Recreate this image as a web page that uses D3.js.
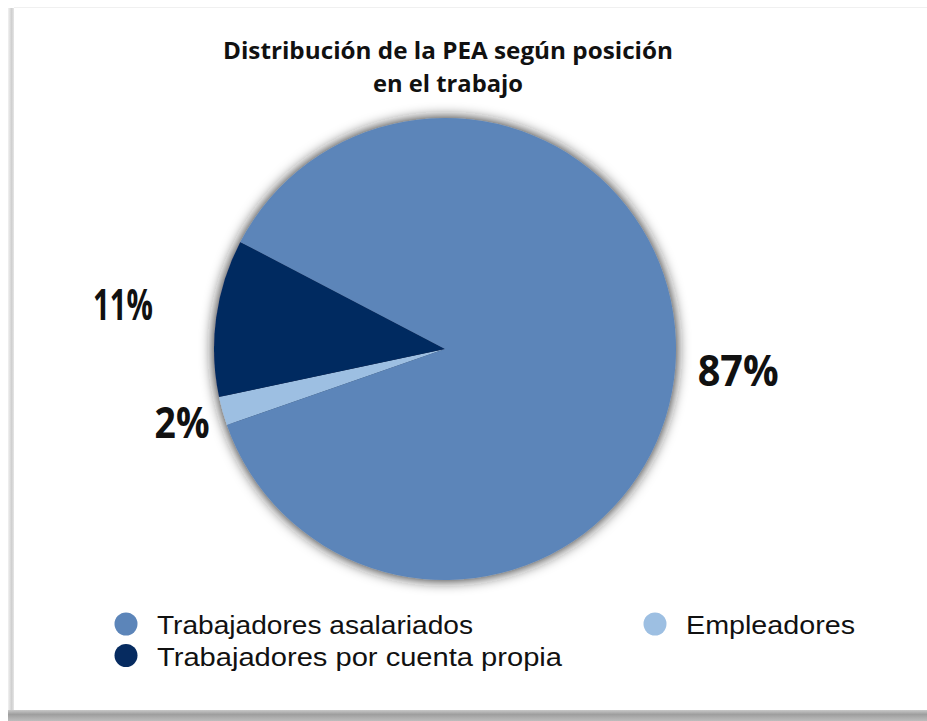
<!DOCTYPE html>
<html>
<head>
<meta charset="utf-8">
<script src="https://cdn.jsdelivr.net/npm/d3@7"></script>
<style>
  html, body { margin: 0; padding: 0; background: #ffffff; }
  svg { display: block; }
</style>
</head>
<body>
<svg id="chart" width="927" height="721"></svg>
<script>
// ---- data ----
const categories = ["Empleadores", "Trabajadores por cuenta propia", "Trabajadores asalariados"];
const values = [2, 11, 87];
const valueLabels = ["2%", "11%", "87%"];
const titleLines = ["Distribución de la PEA según posición", "en el trabajo"];
const legendOrder = ["Trabajadores asalariados", "Empleadores", "Trabajadores por cuenta propia"];

// ---- styles / layout ----
const colors = {
  "Empleadores": "#9dbfe2",
  "Trabajadores por cuenta propia": "#062b60",
  "Trabajadores asalariados": "#5c85b9"
};
const W = 927, H = 721;
const cx = 445, cy = 349, R = 231;
const startDeg = 250.8;
const labelRadius = { "Empleadores": 273, "Trabajadores por cuenta propia": 325, "Trabajadores asalariados": 294 };
const labelWidth = { "Empleadores": 55, "Trabajadores por cuenta propia": 60, "Trabajadores asalariados": 81 };
const legendPos = {
  "Trabajadores asalariados": { x: 126, y: 624, w: 316 },
  "Trabajadores por cuenta propia": { x: 126, y: 655.5, w: 405 },
  "Empleadores": { x: 655, y: 624, w: 169 }
};
const font = "'Open Sans', 'Lato', sans-serif";
const legendFont = "'Liberation Sans', Arial, sans-serif";

const svg = d3.select("#chart");
const defs = svg.append("defs");

// card shadows
const bandGrad = defs.append("linearGradient").attr("id", "band").attr("x1", 0).attr("y1", 0).attr("x2", 0).attr("y2", 1);
bandGrad.append("stop").attr("offset", "0%").attr("stop-color", "#c8c8c8");
bandGrad.append("stop").attr("offset", "40%").attr("stop-color", "#9e9e9e");
bandGrad.append("stop").attr("offset", "100%").attr("stop-color", "#bdbdbd");
const leftGrad = defs.append("linearGradient").attr("id", "leftband").attr("x1", 0).attr("y1", 0).attr("x2", 1).attr("y2", 0);
leftGrad.append("stop").attr("offset", "0%").attr("stop-color", "#f2f2f2");
leftGrad.append("stop").attr("offset", "60%").attr("stop-color", "#cfcfcf");
leftGrad.append("stop").attr("offset", "100%").attr("stop-color", "#e6e6e6");

const pieShadow = defs.append("filter").attr("id", "pieShadow")
  .attr("x", "-20%").attr("y", "-20%").attr("width", "140%").attr("height", "140%");
pieShadow.append("feDropShadow").attr("dx", 0).attr("dy", 0).attr("stdDeviation", 7)
  .attr("flood-color", "#1e1e1e").attr("flood-opacity", 1);

svg.append("rect").attr("width", W).attr("height", H).attr("fill", "#ffffff");
svg.append("rect").attr("x", 8).attr("y", 8).attr("width", 6).attr("height", 702).attr("fill", "url(#leftband)");
svg.append("rect").attr("x", 14).attr("y", 7).attr("width", W - 14).attr("height", 1).attr("fill", "#f0f0f0");
svg.append("rect").attr("x", 8).attr("y", 710).attr("width", W - 8).attr("height", 11).attr("fill", "url(#band)");
svg.append("rect").attr("x", 14).attr("y", 8).attr("width", W - 14).attr("height", 702).attr("fill", "#ffffff");

// title
svg.append("g").selectAll("text").data(titleLines).join("text")
  .attr("x", 448)
  .attr("y", (d, i) => 59 + i * 33)
  .attr("text-anchor", "middle")
  .attr("font-family", font)
  .attr("font-weight", "bold")
  .attr("font-size", 24)
  .attr("fill", "#111")
  .attr("textLength", (d, i) => i === 0 ? 450 : 150)
  .attr("lengthAdjust", "spacingAndGlyphs")
  .text(d => d);

// pie
const data = categories.map((c, i) => ({ cat: c, value: values[i], label: valueLabels[i] }));
const start = startDeg * Math.PI / 180;
const pie = d3.pie().sort(null).value(d => d.value).startAngle(start).endAngle(start + 2 * Math.PI);
const arcs = pie(data);
const arc = d3.arc().innerRadius(0).outerRadius(R);

const g = svg.append("g").attr("transform", `translate(${cx},${cy})`);
g.append("g").attr("filter", "url(#pieShadow)")
  .selectAll("path").data(arcs).join("path")
  .attr("d", arc)
  .attr("fill", d => colors[d.data.cat]);

// value labels
g.selectAll("text.val").data(arcs).join("text")
  .attr("class", "val")
  .attr("transform", d => {
    const la = d3.arc().innerRadius(labelRadius[d.data.cat]).outerRadius(labelRadius[d.data.cat]);
    const [x, y] = la.centroid(d);
    return `translate(${x},${y})`;
  })
  .attr("text-anchor", "middle")
  .attr("dy", "0.36em")
  .attr("font-family", font)
  .attr("font-weight", "bold")
  .attr("font-size", 43)
  .attr("fill", "#111")
  .attr("textLength", d => labelWidth[d.data.cat])
  .attr("lengthAdjust", "spacingAndGlyphs")
  .text(d => d.data.label);

// legend
const lg = svg.append("g").selectAll("g").data(legendOrder).join("g")
  .attr("transform", d => `translate(${legendPos[d].x},${legendPos[d].y})`);
lg.append("circle").attr("r", 11.5).attr("fill", d => colors[d]);
lg.append("text")
  .attr("x", 31)
  .attr("y", 10)
  .attr("font-family", legendFont)
  .attr("font-size", 26.5)
  .attr("fill", "#111")
  .attr("textLength", d => legendPos[d].w)
  .attr("lengthAdjust", "spacingAndGlyphs")
  .text(d => d);
</script>
</body>
</html>
